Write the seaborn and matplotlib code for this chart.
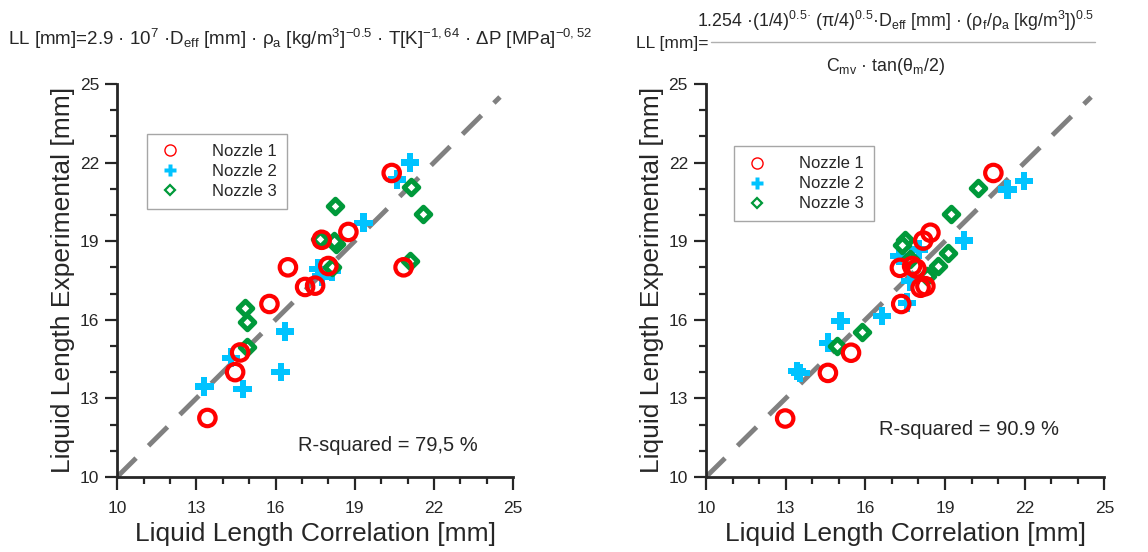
import numpy as np
import pandas as pd
import matplotlib.pyplot as plt
import seaborn as sns
from matplotlib.lines import Line2D
from matplotlib.ticker import MultipleLocator

# data (correlation vs experimental, mm)
n1_corr_a = [20.4, 18.76, 17.75, 18.0, 20.85, 16.47, 17.5, 17.12, 15.77, 14.66, 14.47, 13.42]
n1_exp_a = [21.6, 19.35, 19.05, 18.05, 18.0, 18.0, 17.3, 17.25, 16.6, 14.75, 14.0, 12.25]
n2_corr_a = [21.1, 20.6, 19.33, 17.63, 18.13, 17.75, 16.36, 16.2, 14.32, 13.3, 14.76]
n2_exp_a = [22.0, 21.35, 19.7, 17.95, 17.85, 17.65, 15.55, 14.0, 14.55, 13.45, 13.35]
n3_corr_a = [21.12, 21.58, 18.26, 17.69, 18.3, 18.2, 18.13, 21.1, 14.85, 14.91, 14.91]
n3_exp_a = [21.05, 20.05, 20.35, 19.08, 18.9, 19.0, 18.0, 18.25, 16.45, 15.9, 14.95]

n1_corr_b = [20.82, 18.45, 18.18, 17.3, 17.76, 17.92, 18.08, 18.26, 17.35, 15.46, 14.59, 12.98]
n1_exp_b = [21.6, 19.32, 19.02, 17.98, 18.05, 17.95, 17.22, 17.28, 16.6, 14.74, 13.97, 12.23]
n2_corr_b = [21.98, 21.35, 19.71, 18.01, 17.26, 17.7, 17.57, 16.63, 15.06, 14.59, 13.42, 13.55]
n2_exp_b = [21.3, 20.97, 19.02, 18.68, 18.43, 17.47, 16.65, 16.14, 15.95, 15.12, 14.04, 13.97]
n3_corr_b = [20.24, 19.23, 19.1, 18.73, 18.33, 17.51, 17.38, 17.67, 15.88, 14.93]
n3_exp_b = [21.03, 20.04, 18.55, 18.05, 17.66, 19.06, 18.87, 18.3, 15.53, 14.99]

nozzles = ["Nozzle 1", "Nozzle 2", "Nozzle 3"]
r2_labels = ["R-squared = 79,5 %", "R-squared = 90.9 %"]
ticks = [10, 13, 16, 19, 22, 25]

colors = {"Nozzle 1": "#FF0000", "Nozzle 2": "#00C3FF", "Nozzle 3": "#00993A"}


def make_df(c1, e1, c2, e2, c3, e3):
    parts = []
    for name, c, e in zip(nozzles, [c1, c2, c3], [e1, e2, e3]):
        parts.append(pd.DataFrame({"corr": c, "exp": e, "nozzle": name}))
    return pd.concat(parts, ignore_index=True)


df_a = make_df(n1_corr_a, n1_exp_a, n2_corr_a, n2_exp_a, n3_corr_a, n3_exp_a)
df_b = make_df(n1_corr_b, n1_exp_b, n2_corr_b, n2_exp_b, n3_corr_b, n3_exp_b)

sns.set_style("ticks")
plt.rcParams['font.family'] = ['Liberation Sans', 'DejaVu Sans']
plt.rcParams['mathtext.default'] = 'regular'

fig = plt.figure(figsize=(11.48, 5.52), dpi=100)
ax1 = fig.add_axes([0.102, 0.136, 0.345, 0.712])
ax2 = fig.add_axes([0.615, 0.136, 0.347, 0.712])


def draw(ax, df, r2, r2_xy, leg_anchor):
    ax.plot([10, 24.5], [10, 24.5], color="#808080", lw=3.5, dashes=(5.5, 3.6), zorder=1)
    for name in nozzles:
        sub = df[df.nozzle == name]
        if name == "Nozzle 1":
            sns.scatterplot(x="corr", y="exp", data=sub, ax=ax, marker="o", s=140,
                            facecolor="none", edgecolor=colors[name], linewidth=3, zorder=3)
        elif name == "Nozzle 2":
            sns.scatterplot(x="corr", y="exp", data=sub, ax=ax, marker="P", s=180,
                            color=colors[name], edgecolor="none", zorder=2)
        else:
            sns.scatterplot(x="corr", y="exp", data=sub, ax=ax, marker="D", s=55,
                            facecolor="white", edgecolor=colors[name], linewidth=3.6, zorder=2)
    ax.set_xlim(10, 25)
    ax.set_ylim(10, 25)
    ax.set_xticks(ticks)
    ax.set_yticks(ticks)
    ax.xaxis.set_minor_locator(MultipleLocator(1))
    ax.yaxis.set_minor_locator(MultipleLocator(1))
    ax.tick_params(which="major", length=9, width=1.6, labelsize=12.5, direction="out")
    ax.tick_params(which="minor", length=5, width=1.6, direction="out")
    ax.tick_params(axis="x", which="major", pad=8)
    ax.tick_params(axis="y", which="major", pad=4)
    for s in ["left", "bottom"]:
        ax.spines[s].set_linewidth(2)
    sns.despine(ax=ax)
    ax.set_xlabel("Liquid Length Correlation [mm]", fontsize=19, labelpad=5)
    ax.set_ylabel("Liquid Length Experimental [mm]", fontsize=19, labelpad=3)
    ax.text(r2_xy[0], r2_xy[1], r2, fontsize=14.5, va="center", ha="left")

    handles = [
        Line2D([], [], ls="none", marker="o", ms=8, mfc="none", mec=colors["Nozzle 1"], mew=1),
        Line2D([], [], ls="none", marker="P", ms=9, color=colors["Nozzle 2"], mec="none"),
        Line2D([], [], ls="none", marker="D", ms=5, mfc="white", mec=colors["Nozzle 3"], mew=1.6),
    ]
    leg = ax.legend(handles, nozzles, loc="upper left", bbox_to_anchor=leg_anchor,
                    fontsize=12, frameon=True, fancybox=False, handletextpad=1.8,
                    borderpad=0.6, labelspacing=0.3, handlelength=1.5)
    leg.get_frame().set_edgecolor("#909090")
    leg.get_frame().set_linewidth(1)


draw(ax1, df_a, r2_labels[0], (16.85, 11.2), (0.055, 0.895))
draw(ax2, df_b, r2_labels[1], (16.5, 11.8), (0.05, 0.862))

# correlation formulas above each panel
fig.text(0.007, 0.93, r"LL [mm]=2.9 · 10$^7$ ·D$_{eff}$ [mm] · $\rho_a$ [kg/m$^3$]$^{-0.5}$ · T[K]$^{-1,64}$ · $\Delta$P [MPa]$^{-0,52}$",
         fontsize=13.5, va="center", ha="left")
fig.text(0.554, 0.921, "LL [mm]=", fontsize=12.5, va="center", ha="left")
fig.text(0.78, 0.962, r"1.254 ·(1/4)$^{0.5·}$ ($\pi$/4)$^{0.5}$·D$_{eff}$ [mm] · ($\rho_f$/$\rho_a$ [kg/m$^3$])$^{0.5}$",
         fontsize=12.8, va="center", ha="center")
fig.add_artist(Line2D([0.619, 0.954], [0.924, 0.924], color="#b0b0b0", lw=1, transform=fig.transFigure))
fig.text(0.771, 0.880, r"C$_{mv}$ · tan($\theta_m$/2)", fontsize=12.8, va="center", ha="center")

fig.savefig("out.png", dpi=100)
